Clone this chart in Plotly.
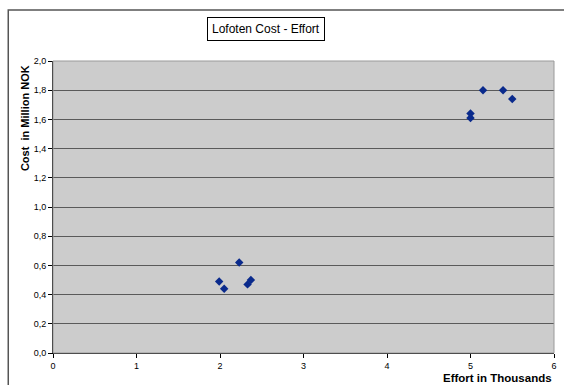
import plotly.graph_objects as go

# Effort (thousands) and cost (million NOK) for the Lofoten fishery
effort = [1.99, 2.05, 2.23, 2.33, 2.37, 5.00, 5.00, 5.15, 5.39, 5.50]
cost = [0.49, 0.44, 0.62, 0.47, 0.50, 1.64, 1.61, 1.80, 1.80, 1.74]

x_ticks = [0, 1, 2, 3, 4, 5, 6]
y_ticks = [0.0, 0.2, 0.4, 0.6, 0.8, 1.0, 1.2, 1.4, 1.6, 1.8, 2.0]

font_family = "Liberation Sans, Arial, sans-serif"

fig = go.Figure()
fig.add_trace(go.Scatter(
    x=effort, y=cost, mode="markers",
    marker=dict(symbol="diamond", size=6.5, color="#0a2a8c",
                line=dict(width=0)),
    showlegend=False, cliponaxis=False,
))

fig.update_layout(
    width=564, height=385,
    margin=dict(l=53, r=7, t=61, b=32),
    paper_bgcolor="white",
    plot_bgcolor="#cccccc",
    separators=", ",
    font=dict(family=font_family, color="black"),
    xaxis=dict(
        range=[0, 6], tickvals=x_ticks, ticktext=[str(v) for v in x_ticks],
        showgrid=False, zeroline=False,
        showline=True, linecolor="black", linewidth=1,
        ticks="outside", ticklen=4, tickcolor="black", tickwidth=1,
        tickfont=dict(size=9, family=font_family),
    ),
    yaxis=dict(
        range=[0, 2], tickvals=y_ticks, tickformat=".1f",
        showgrid=True, gridcolor="#5a5a5a", gridwidth=1,
        zeroline=False,
        showline=True, linecolor="black", linewidth=1,
        ticks="outside", ticklen=4, tickcolor="black", tickwidth=1,
        tickfont=dict(size=9, family=font_family),
    ),
    shapes=[
        # light border around the plotting area (top and right edges)
        dict(type="rect", xref="paper", yref="paper", x0=0, y0=0, x1=1, y1=1,
             line=dict(color="#9a9a9a", width=1), layer="above"),
        # outer chart frame
        dict(type="rect", xref="paper", yref="paper",
             x0=-0.0893, y0=-0.25, x1=1.2, y1=1.175,
             line=dict(color="#555555", width=1.5)),
    ],
    annotations=[
        dict(text="Lofoten Cost - Effort", xref="paper", yref="paper",
             x=0.4246, y=1.1095, xanchor="center", yanchor="middle",
             showarrow=False, font=dict(size=12, family=font_family),
             bordercolor="black", borderwidth=1, borderpad=4,
             bgcolor="white"),
        dict(text="<b>Cost  in Million NOK</b>", xref="paper", yref="paper",
             x=-0.0556, y=0.805, xanchor="center", yanchor="middle",
             textangle=-90, showarrow=False,
             font=dict(size=11, family=font_family)),
        dict(text="<b>Effort in Thousands</b>", xref="paper", yref="paper",
             x=1.0, y=-0.0845, xanchor="right", yanchor="middle",
             showarrow=False, font=dict(size=11.5, family=font_family)),
    ],
)

fig.write_html("out.html")
